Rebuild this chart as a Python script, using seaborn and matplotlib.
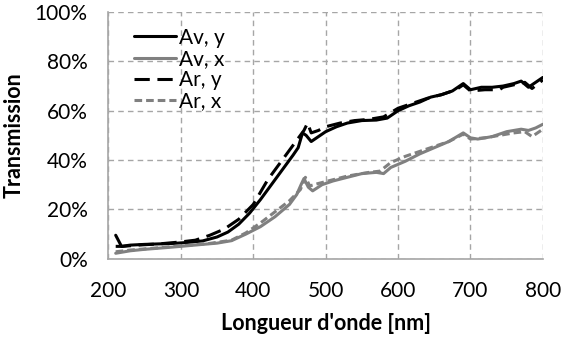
import matplotlib
matplotlib.use("Agg")
import matplotlib.pyplot as plt
import seaborn as sns
import pandas as pd
from matplotlib.ticker import FuncFormatter

# --- data ---
av_y_wl = [210, 218, 230, 250, 270, 290, 310, 330, 350, 365, 380, 395, 410, 425, 440, 455, 462, 468, 473, 480,
           490, 500, 515, 530, 550, 570, 585, 600, 615, 630, 645, 660, 675, 690, 700, 715, 730, 745, 760, 770,
           780, 790, 800]
av_y = [9.5, 5.0, 5.5, 5.8, 6.0, 6.2, 6.6, 7.2, 8.8, 10.8, 14, 18.5, 24, 30, 36, 42, 45, 51, 50, 47.5,
        49.5, 51.5, 53.5, 55, 56, 56.2, 57, 60, 62, 63.5, 65.5, 66.5, 68, 71, 68.5, 69.5, 69.5, 70, 71, 72,
        69.5, 71.5, 73.5]

av_x_wl = [210, 230, 250, 280, 300, 330, 350, 370, 390, 410, 430, 450, 460, 466, 470, 476, 482, 495, 510, 530,
           550, 570, 580, 590, 610, 630, 650, 670, 690, 700, 710, 730, 750, 770, 780, 790, 800]
av_x = [2.2, 3.2, 3.8, 4.5, 5.0, 5.8, 6.3, 7.3, 10, 13, 17, 22, 26, 30, 32.5, 29, 27.5, 30, 31.5, 33,
        34.5, 35, 34.5, 37, 39.5, 42.5, 45, 47.5, 51, 49, 48.5, 49.5, 51.5, 52.5, 52, 53, 54.5]

ar_y_wl = [210, 220, 240, 270, 300, 320, 340, 360, 380, 400, 420, 440, 455, 465, 470, 475, 480, 490, 500, 520,
           540, 560, 580, 600, 620, 640, 660, 680, 690, 700, 720, 740, 745, 760, 775, 785, 800]
ar_y = [5, 5, 5.5, 6, 6.8, 7.5, 9.5, 12, 16, 22, 32, 40, 46, 50, 52, 55, 51, 52, 53.5, 55,
        56, 56.5, 57.5, 61, 63, 65, 66.5, 68.5, 70.5, 68, 68.5, 68.5, 69.5, 70.5, 71.5, 69, 72.5]

ar_x_wl = [210, 230, 260, 300, 340, 370, 390, 410, 430, 450, 465, 472, 478, 490, 510, 530, 560, 575, 590, 610,
           630, 650, 670, 690, 700, 720, 740, 760, 775, 785, 800]
ar_x = [2.8, 3.5, 4.2, 5.2, 6.2, 7.5, 10.5, 14.5, 19, 23.5, 28, 33, 29.5, 30.5, 32, 33.5, 35, 35.5, 39, 41.5,
        43.5, 45.5, 47.5, 50.5, 48.5, 49, 50, 51, 51.5, 49.5, 52.5]

labels = ["Av, y", "Av, x", "Ar, y", "Ar, x"]
x_ticks = [200, 300, 400, 500, 600, 700, 800]
y_ticks = [0, 20, 40, 60, 80, 100]

sns.set_theme(style="white")
plt.rcParams['font.family'] = ['Lato', 'DejaVu Sans']
plt.rcParams['text.color'] = 'black'
plt.rcParams['axes.labelcolor'] = 'black'

fig = plt.figure(figsize=(5.62, 3.44), dpi=100)
ax = fig.add_axes([0.193, 0.248, 0.773, 0.717])

series = [
    (av_y_wl, av_y, labels[0], "black", None),
    (av_x_wl, av_x, labels[1], "#808080", None),
    (ar_y_wl, ar_y, labels[2], "black", (5, 2.5)),
    (ar_x_wl, ar_x, labels[3], "#808080", (2.5, 1.3)),
]
for wl, vals, lab, col, dash in series:
    df = pd.DataFrame({"wl": wl, "T": vals})
    sns.lineplot(data=df, x="wl", y="T", ax=ax, color=col, lw=2.2, label=lab)
    l = ax.get_lines()[-1]
    if dash is not None:
        l.set_dashes(dash)

ax.set_xlim(200, 800)
ax.set_ylim(0, 100)
ax.set_xticks(x_ticks)
ax.set_yticks(y_ticks)
ax.yaxis.set_major_formatter(FuncFormatter(lambda v, p: f"{int(v)}%"))
ax.grid(True, color="#a6a6a6", linestyle=(0, (4, 3)), linewidth=1.0)
ax.tick_params(length=0, labelsize=15, colors="black")
ax.tick_params(axis="y", pad=15)
ax.tick_params(axis="x", pad=16)
for s in ["top", "right"]:
    ax.spines[s].set_visible(False)
for s in ["left", "bottom"]:
    ax.spines[s].set_color("#a6a6a6")
    ax.spines[s].set_linewidth(1.2)

ax.set_xlabel("Longueur d'onde [nm]", fontsize=15.5, fontweight="bold", labelpad=9, color="black")
ax.set_ylabel("Transmission", fontsize=15.5, fontweight="bold", labelpad=7, color="black")

leg = ax.legend(loc="upper left", frameon=False, fontsize=15, handlelength=2.0,
                handletextpad=0.15, labelspacing=0.05, borderaxespad=0.0,
                bbox_to_anchor=(0.04, 0.97))
for t in leg.get_texts():
    t.set_color("black")

fig.savefig("out.png", dpi=100)
